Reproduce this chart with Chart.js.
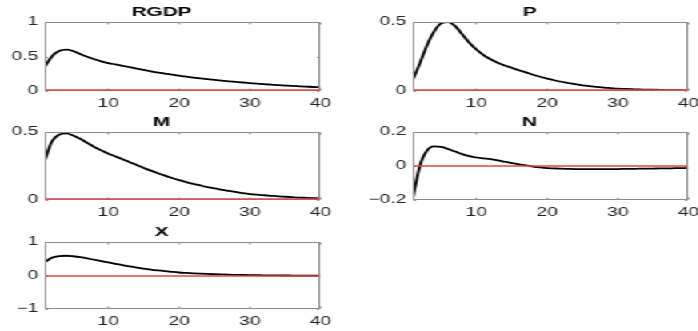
<!DOCTYPE html>
<html>
<head>
<meta charset="utf-8">
<script src="https://cdn.jsdelivr.net/npm/chart.js@4.4.1/dist/chart.umd.min.js"></script>
<style>
  html, body { margin: 0; padding: 0; background: #fff; overflow: hidden; }
  body { width: 698px; height: 331px; position: relative; }
  #stage { position: absolute; left: 0; top: 0; height: 331px; transform-origin: 0 0; }
  #stage canvas { position: absolute; }
</style>
</head>
<body>
<div id="stage"></div>
<script>
// horizons 1..40
const horizons = [1,2,3,4,5,6,7,8,9,10,11,12,13,14,15,16,17,18,19,20,
                  21,22,23,24,25,26,27,28,29,30,31,32,33,34,35,36,37,38,39,40];
const xTicks = [10, 20, 30, 40];

const rgdp = [0.35,0.50,0.58,0.60,0.58,0.535,0.495,0.46,0.43,0.405,
              0.385,0.365,0.345,0.325,0.305,0.285,0.268,0.252,0.236,0.222,
              0.208,0.195,0.183,0.172,0.161,0.151,0.141,0.132,0.123,0.115,
              0.107,0.099,0.092,0.085,0.079,0.073,0.068,0.063,0.058,0.054];
const p = [0.08,0.20,0.33,0.43,0.49,0.50,0.47,0.41,0.35,0.30,
           0.26,0.23,0.205,0.185,0.168,0.15,0.135,0.118,0.103,0.09,
           0.078,0.067,0.058,0.049,0.041,0.035,0.03,0.025,0.021,0.017,
           0.015,0.013,0.011,0.01,0.009,0.008,0.007,0.006,0.005,0.005];
const m = [0.29,0.43,0.48,0.49,0.475,0.45,0.42,0.39,0.365,0.34,
           0.32,0.30,0.278,0.257,0.236,0.216,0.197,0.179,0.162,0.146,
           0.132,0.119,0.107,0.095,0.085,0.076,0.067,0.059,0.051,0.044,
           0.039,0.035,0.031,0.027,0.024,0.021,0.018,0.016,0.014,0.012];
const n = [-0.19,0.0,0.09,0.115,0.112,0.10,0.085,0.07,0.058,0.05,
           0.045,0.04,0.033,0.025,0.017,0.01,0.003,-0.003,-0.008,-0.012,
           -0.014,-0.016,-0.017,-0.018,-0.018,-0.018,-0.018,-0.018,-0.018,-0.018,
           -0.017,-0.017,-0.016,-0.016,-0.015,-0.014,-0.014,-0.013,-0.012,-0.012];
const x = [0.40,0.53,0.58,0.59,0.575,0.55,0.51,0.47,0.43,0.39,
           0.35,0.31,0.27,0.235,0.205,0.175,0.15,0.128,0.108,0.09,
           0.077,0.065,0.055,0.046,0.038,0.031,0.025,0.02,0.015,0.011,
           0.008,0.005,0.003,0.001,0.0,-0.001,-0.002,-0.002,-0.003,-0.003];

const titles = ['RGDP', 'P', 'M', 'N', 'X'];
const series = [rgdp, p, m, n, x];
const yRanges = [[0, 1], [0, 0.5], [0, 0.5], [-0.2, 0.2], [-1, 1]];
const yTicks = [[0, 0.5, 1], [0, 0.5], [0, 0.5], [-0.2, 0, 0.2], [-1, 0, 1]];

// axes boxes in page pixels [left, right, top, bottom]
const boxes = [[45, 323, 22, 91], [412, 691, 22, 91], [45, 323, 132, 200],
               [412, 691, 132, 200], [45, 323, 242, 309]];

const S = 1.6; // the picture is stretched sideways
const AXW = 28, RPAD = 10, TITLEH = 22, XAH = 20;

const stage = document.getElementById('stage');
stage.style.width = (698 / S) + 'px';
stage.style.transform = 'scaleX(' + S + ')';

// tick text with a real minus sign, as MATLAB prints it
const fmt = v => (v < 0 ? '\u2212' + String(-v) : String(v));

const frame = {
  id: 'frame',
  afterDatasetsDraw(chart) {
    const ctx = chart.ctx, a = chart.chartArea;
    const xs = chart.scales.x, ys = chart.scales.y;
    const L = Math.round(a.left) + 0.5, R = Math.round(a.right) - 0.5;
    const T = Math.round(a.top) + 0.5, B = Math.round(a.bottom) - 0.5;
    ctx.save();
    ctx.strokeStyle = '#8a8a8a';
    ctx.lineWidth = 1;
    ctx.strokeRect(L, T, R - L, B - T);
    ctx.beginPath();
    xTicks.forEach(v => {
      const px = xs.getPixelForValue(v);
      ctx.moveTo(px, T); ctx.lineTo(px, T + 2);
      ctx.moveTo(px, B); ctx.lineTo(px, B - 2);
    });
    ys.ticks.forEach(t => {
      const py = Math.round(ys.getPixelForValue(t.value)) + 0.5;
      ctx.moveTo(L, py); ctx.lineTo(L + 1.5, py);
      ctx.moveTo(R, py); ctx.lineTo(R - 1.5, py);
    });
    ctx.stroke();
    // zero line across the axes
    const z = Math.min(Math.round(ys.getPixelForValue(0)), B - 0.5);
    ctx.strokeStyle = '#e04444';
    ctx.lineWidth = 1.6;
    ctx.beginPath();
    ctx.moveTo(L, z); ctx.lineTo(R, z);
    ctx.stroke();
    ctx.restore();
  }
};

boxes.forEach((b, i) => {
  const w = AXW + (b[1] - b[0]) / S + RPAD;
  const h = TITLEH + (b[3] - b[2]) + XAH;
  const cv = document.createElement('canvas');
  cv.width = Math.round(w);
  cv.height = Math.round(h);
  cv.style.left = (b[0] / S - AXW) + 'px';
  cv.style.top = (b[2] - TITLEH) + 'px';
  cv.style.width = Math.round(w) + 'px';
  cv.style.height = Math.round(h) + 'px';
  stage.appendChild(cv);

  new Chart(cv, {
    type: 'line',
    data: {
      labels: horizons,
      datasets: [{
        data: series[i].map((v, k) => ({ x: horizons[k], y: v })),
        borderColor: '#000',
        borderWidth: 1.8,
        pointRadius: 0,
        cubicInterpolationMode: 'monotone',
        fill: false
      }]
    },
    options: {
      responsive: false,
      animation: false,
      layout: { padding: { left: 0, right: RPAD, top: 0, bottom: 0 } },
      plugins: {
        legend: { display: false },
        tooltip: { enabled: false },
        title: {
          display: true,
          text: titles[i],
          color: '#000',
          font: { family: 'Liberation Sans', size: 13, weight: 'bold' },
          padding: { top: 5, bottom: 1.4 }
        }
      },
      scales: {
        x: {
          type: 'linear',
          min: 1, max: 40,
          afterBuildTicks: s => { s.ticks = xTicks.map(v => ({ value: v })); },
          afterFit: s => { s.height = XAH; },
          grid: { display: false, drawTicks: false },
          border: { display: false },
          ticks: {
            color: '#222', padding: 5, maxRotation: 0,
            font: { family: 'Liberation Sans', size: 12 },
            callback: fmt
          }
        },
        y: {
          type: 'linear',
          min: yRanges[i][0], max: yRanges[i][1],
          afterBuildTicks: s => { s.ticks = yTicks[i].map(v => ({ value: v })); },
          afterFit: s => { s.width = AXW; },
          grid: { display: false, drawTicks: false },
          border: { display: false },
          ticks: {
            color: '#222', padding: 4,
            font: { family: 'Liberation Sans', size: 12 },
            callback: fmt
          }
        }
      }
    },
    plugins: [frame]
  });
});
</script>
</body>
</html>
